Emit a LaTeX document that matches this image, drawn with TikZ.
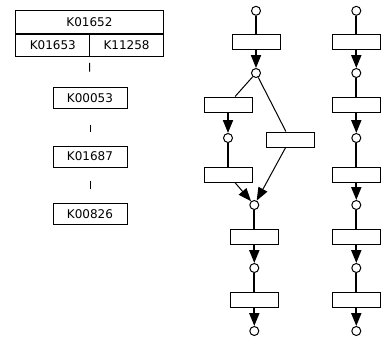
\documentclass[tikz,border=0pt]{standalone}
\usepackage{fontspec}
\setmainfont{DejaVu Sans}
\usetikzlibrary{arrows.meta,positioning}

\begin{document}
\begin{tikzpicture}[x=1pt,y=-1pt,font=\fontsize{12}{14}\selectfont]
\tikzset{
  ko/.style    ={draw, line width=1pt, inner sep=0pt, minimum width=74pt, minimum height=21pt},
  rxn/.style   ={draw, line width=1pt, inner sep=0pt, minimum width=48pt, minimum height=15pt},
  cpd/.style   ={draw, circle, line width=1pt, inner sep=0pt, minimum size=9pt, fill=white},
  link/.style  ={line width=2pt},
  branch/.style={line width=1pt},
  gap/.style   ={line width=1pt},
  flow/.style  ={line width=2pt, -{Triangle[length=13pt,width=10pt]}},
  merge/.style ={line width=1pt, -{Triangle[length=13pt,width=10pt]}}
}
\useasboundingbox (0,0) rectangle (386,341);
% ortholog group
\node (k1652)[ko, minimum width=147.6pt, minimum height=23pt] at (89.5,22.3) {K01652};
\node (k1653)[ko, minimum width=74.3pt, minimum height=22.3pt] at (52.8,45.2) {K01653};
\node (k11258)[ko, minimum width=73.3pt, minimum height=22.3pt] at (126.6,45.2) {K11258};
\node (k0053)[ko] at (90,98) {K00053};
\node (k1687)[ko] at (90,156.5) {K01687};
\node (k0826)[ko] at (90,214) {K00826};
\draw[gap, shorten <=6pt, shorten >=15.5pt](k11258.south west) -- (k0053.north);
\draw[gap, shorten <=15.5pt, shorten >=14pt](k0053.south) -- (k1687.north);
\draw[gap, shorten <=13pt, shorten >=14.5pt](k1687.south) -- (k0826.north);
% branched pathway
\node (c1)[cpd] at (256,10.8) {};
\node (r1)[rxn] at (256,41.8) {};
\node (c2)[cpd] at (256,73) {};
\node (r2)[rxn] at (228,104.5) {};
\node (c3)[cpd] at (228,138) {};
\node (r3)[rxn] at (228,174.5) {};
\node (r4)[rxn] at (290,139.5) {};
\node (c4)[cpd] at (254.3,205) {};
\node (r5)[rxn] at (254.3,236.5) {};
\node (c5)[cpd] at (254.3,268) {};
\node (r6)[rxn] at (254.3,299.8) {};
\node (c6)[cpd] at (254.3,331) {};
\draw[link](c1)--(r1); \draw[flow](r1)--(c2);
\draw[branch](c2)--(r2); \draw[branch](c2)--(r4);
\draw[flow](r2)--(c3); \draw[link](c3)--(r3);
\draw[merge](r3)--(c4); \draw[merge](r4)--(c4);
\draw[link](c4)--(r5); \draw[flow](r5)--(c5);
\draw[link](c5)--(r6); \draw[flow](r6)--(c6);
% linear pathway
\foreach \i/\y in {1/10.8,2/73,3/138,4/205,5/268,6/331}
  \node (d\i)[cpd] at (356.3,\y) {};
\foreach \i/\y in {1/41.8,2/104.5,3/174.5,4/236.5,5/299.8}
  \node (s\i)[rxn] at (356.3,\y) {};
\foreach \i [evaluate=\i as \j using int(\i+1)] in {1,...,5}
  {\draw[link](d\i)--(s\i); \draw[flow](s\i)--(d\j);}
\end{tikzpicture}
\end{document}
